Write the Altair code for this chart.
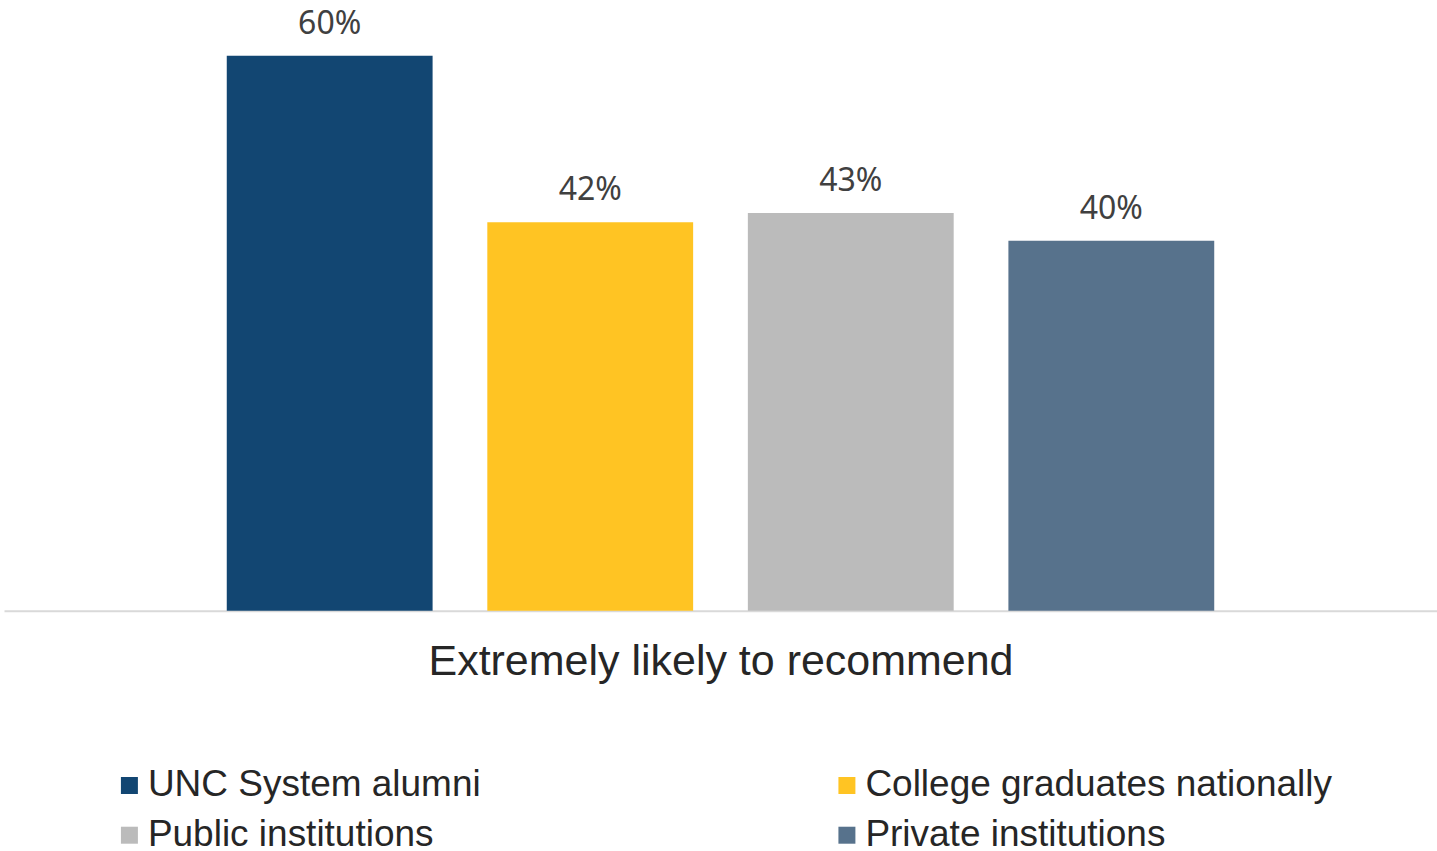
import altair as alt
import pandas as pd

series = ["UNC System alumni", "College graduates nationally", "Public institutions", "Private institutions"]
values = [60, 42, 43, 40]
labels = ["60%", "42%", "43%", "40%"]
colors = ["#124672", "#FFC423", "#BBBBBB", "#57728C"]
category = "Extremely likely to recommend"

df = pd.DataFrame({"series": series, "value": values, "label": labels})

x = alt.X("series:N", sort=series,
          scale=alt.Scale(paddingInner=0.21, paddingOuter=0.855),
          axis=alt.Axis(title=category, labels=False, ticks=False, domain=True,
                        domainColor="#D9D9D9", domainWidth=2,
                        titleFont="Liberation Sans", titleFontSize=43, titleFontWeight="normal",
                        titleColor="#262626", titlePadding=30))
y = alt.Y("value:Q", scale=alt.Scale(domain=[0, 66], nice=False), axis=None)

bars = alt.Chart(df).mark_bar().encode(
    x=x, y=y,
    color=alt.Color("series:N", sort=series,
                    scale=alt.Scale(domain=series, range=colors),
                    legend=alt.Legend(title=None, orient="none", legendX=107, legendY=767,
                                      columns=2, direction="horizontal",
                                      columnPadding=347, rowPadding=12,
                                      symbolType="square", symbolSize=289, symbolStrokeWidth=0,
                                      symbolOffset=0, labelOffset=0,
                                      labelFont="Liberation Sans", labelFontSize=37,
                                      labelColor="#262626", labelLimit=800)),
)

text = alt.Chart(df).mark_text(baseline="alphabetic", dy=-22, font="Noto Sans",
                               fontSize=32, color="#404040").encode(
    x=alt.X("series:N", sort=series), y="value:Q", text="label:N")

chart = (bars + text).properties(
    width=1434, height=611,
    autosize=alt.AutoSizeParams(type="none"),
    padding={"left": 4, "top": 0, "right": 0, "bottom": 240},
).configure(background="white").configure_view(strokeWidth=0, stroke=None)

chart.save("out.html", embed_options={"renderer": "svg", "actions": False})
